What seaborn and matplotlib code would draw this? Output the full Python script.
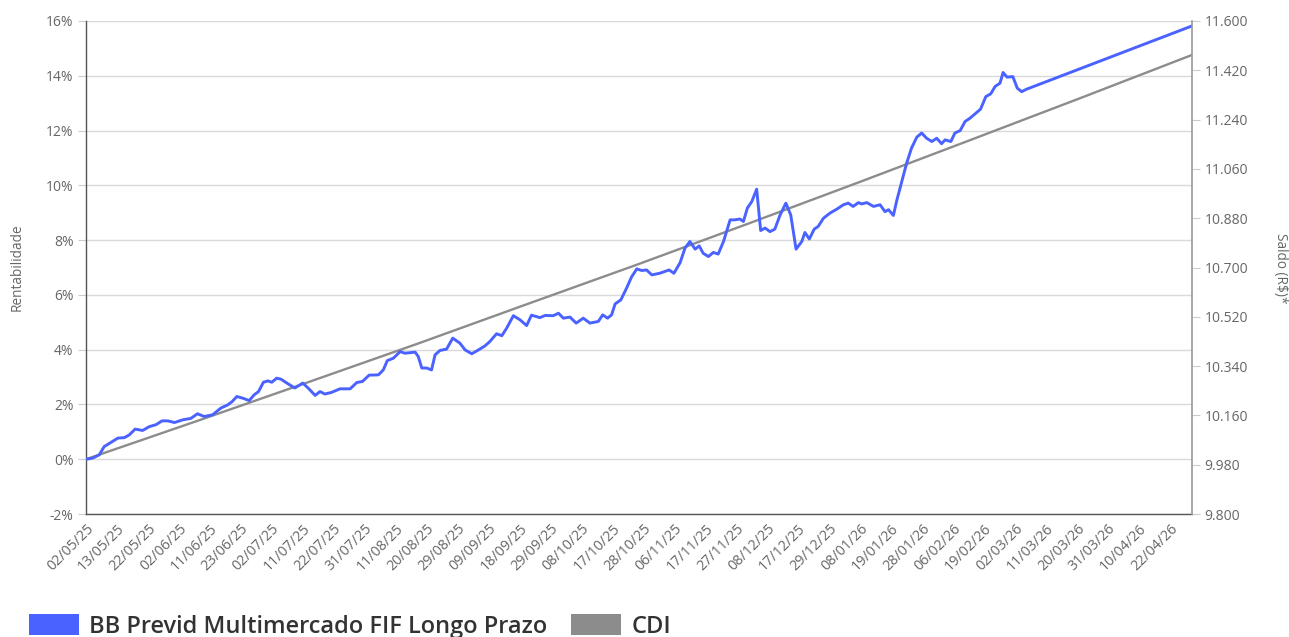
import numpy as np
import pandas as pd
import seaborn as sns
import matplotlib.pyplot as plt
from matplotlib.patches import Patch
from matplotlib.ticker import FixedLocator, FuncFormatter
from matplotlib.transforms import ScaledTranslation

# ---------------- data ----------------
tick_labels = ["02/05/25", "13/05/25", "22/05/25", "02/06/25", "11/06/25", "23/06/25",
               "02/07/25", "11/07/25", "22/07/25", "31/07/25", "11/08/25", "20/08/25",
               "29/08/25", "09/09/25", "18/09/25", "29/09/25", "08/10/25", "17/10/25",
               "28/10/25", "06/11/25", "17/11/25", "27/11/25", "08/12/25", "17/12/25",
               "29/12/25", "08/01/26", "19/01/26", "28/01/26", "06/02/26", "19/02/26",
               "02/03/26", "11/03/26", "20/03/26", "31/03/26", "10/04/26", "22/04/26"]
tick_step = 7          # business days between labels
last_day = 250         # business-day index of the last date on the axis

fund_day = [0, 1.5, 3.0, 4.1, 5.7, 7.2, 8.7, 9.8, 11.1, 12.8, 14.3, 15.8, 17.2, 18.5, 20.0,
            21.9, 23.7, 25.2, 26.7, 28.6, 30.5, 32.0, 33.0, 34.1, 35.4, 36.9, 38.0, 39.0,
            40.1, 41.1, 42.0, 43.1, 44.1, 45.4, 47.2, 49.0, 50.2, 51.8, 52.9, 54.0, 55.5,
            57.4, 59.7, 61.2, 62.5, 64.0, 66.1, 67.2, 68.1, 69.5, 71.0, 72.1, 74.4, 75.1,
            75.9, 77.0, 78.1, 78.9, 80.0, 81.5, 82.9, 84.5, 85.7, 87.2, 88.7, 90.2, 91.3,
            92.8, 94.0, 95.1, 96.6, 98.1, 99.6, 100.7, 102.6, 103.8, 105.6, 106.8, 107.9,
            109.4, 110.8, 112.4, 113.9, 115.8, 116.8, 117.9, 118.8, 119.6, 120.9, 122.2,
            123.3, 124.5, 125.6, 126.7, 127.9, 129.7, 131.8, 132.9, 134.3, 135.4, 136.5,
            137.7, 138.6, 139.5, 140.7, 141.8, 142.9, 144.1, 145.6, 146.7, 147.8, 148.6,
            149.5, 150.5, 151.6, 152.5, 153.5, 154.6, 155.7, 156.9, 158.2, 159.3, 160.5,
            161.8, 162.5, 163.5, 164.6, 165.5, 166.7, 168.2, 169.7, 171.2, 172.3, 173.4,
            174.6, 175.3, 176.5, 178.0, 179.5, 180.6, 181.4, 182.5, 183.3, 184.4, 185.5,
            186.6, 187.8, 188.9, 190.0, 191.2, 192.3, 193.4, 194.2, 195.5, 196.4, 197.6,
            198.7, 199.8, 201.2, 202.2, 203.4, 204.5, 205.5, 206.6, 207.3, 208.2, 209.5,
            210.5, 211.5, 212.6, 250.0]
fund_ret = [0.0, 0.04, 0.16, 0.46, 0.62, 0.77, 0.79, 0.89, 1.10, 1.05, 1.19, 1.26, 1.40, 1.40,
            1.34, 1.44, 1.49, 1.66, 1.56, 1.62, 1.87, 1.98, 2.10, 2.29, 2.23, 2.14, 2.35, 2.47,
            2.81, 2.86, 2.81, 2.96, 2.92, 2.78, 2.60, 2.78, 2.60, 2.33, 2.47, 2.38, 2.44, 2.57,
            2.57, 2.80, 2.84, 3.07, 3.08, 3.26, 3.60, 3.69, 3.93, 3.87, 3.91, 3.75, 3.33, 3.33,
            3.26, 3.81, 3.97, 4.02, 4.42, 4.24, 3.99, 3.85, 3.99, 4.14, 4.30, 4.58, 4.51, 4.79,
            5.24, 5.09, 4.88, 5.26, 5.17, 5.25, 5.24, 5.33, 5.15, 5.19, 4.97, 5.15, 4.97, 5.03,
            5.27, 5.15, 5.27, 5.67, 5.82, 6.25, 6.65, 6.95, 6.89, 6.91, 6.73, 6.79, 6.91, 6.79,
            7.18, 7.71, 7.95, 7.67, 7.79, 7.52, 7.40, 7.55, 7.49, 7.95, 8.74, 8.74, 8.77, 8.68,
            9.17, 9.41, 9.86, 8.35, 8.44, 8.31, 8.40, 8.92, 9.35, 8.92, 7.67, 7.95, 8.28, 8.04,
            8.40, 8.50, 8.80, 8.99, 9.13, 9.29, 9.35, 9.23, 9.37, 9.32, 9.37, 9.23, 9.29, 9.04,
            9.11, 8.90, 9.47, 10.14, 10.81, 11.36, 11.76, 11.91, 11.72, 11.60, 11.72, 11.52,
            11.66, 11.60, 11.91, 12.00, 12.33, 12.45, 12.64, 12.78, 13.24, 13.34, 13.61, 13.73,
            14.12, 13.95, 13.97, 13.55, 13.42, 13.51, 15.82]

cdi_day = [0, 25, 50, 75, 100, 125, 150, 175, 200, 225, 250]
cdi_ret = [0.0, 1.39, 2.80, 4.22, 5.68, 7.13, 8.62, 10.13, 11.66, 13.20, 14.76]

left_ticks = [-2, 0, 2, 4, 6, 8, 10, 12, 14, 16]
right_ticks = [9800, 9980, 10160, 10340, 10520, 10700, 10880, 11060, 11240, 11420, 11600]

series_names = ["BB Previd Multimercado FIF Longo Prazo", "CDI"]
colors = ["#4A62FF", "#8C8C8C"]

# ---------------- plot ----------------
sns.set_theme(style="white")
plt.rcParams["font.family"] = ["Open Sans", "DejaVu Sans"]

W, H = 1289, 637
fig = plt.figure(figsize=(W / 100, H / 100), dpi=100)
ax = fig.add_axes([86 / W, 1 - 514 / H, (1192 - 86) / W, (514 - 21) / H])

fund_df = pd.DataFrame({"day": fund_day, "ret": fund_ret})
cdi_df = pd.DataFrame({"day": cdi_day, "ret": cdi_ret})

sns.lineplot(data=cdi_df, x="day", y="ret", ax=ax, color=colors[1], lw=1.7,
             estimator=None, legend=False, zorder=3)
sns.lineplot(data=fund_df, x="day", y="ret", ax=ax, color=colors[0], lw=2.1,
             estimator=None, legend=False, zorder=4)

ax.set_xlim(0, last_day)
ax.set_ylim(-2, 16)
ax.yaxis.set_major_locator(FixedLocator(left_ticks))
ax.yaxis.set_major_formatter(FuncFormatter(lambda v, p: f"{v:.0f}%"))
ax.set_xticks(np.arange(len(tick_labels)) * tick_step)
ax.set_xticklabels(tick_labels, rotation=45, ha="right", va="top", rotation_mode="anchor")
for lbl in ax.get_xticklabels():
    lbl.set_transform(lbl.get_transform() + ScaledTranslation(10 / 100, 0, fig.dpi_scale_trans))

ax.set_xlabel("")
ax.set_ylabel("")
ax.grid(axis="y", color="#d9d9d9", lw=1)
ax.grid(axis="x", visible=False)
ax.set_axisbelow(True)

ax.tick_params(axis="y", length=6, width=0.8, color="#cccccc", labelcolor="#666666",
               labelsize=10, pad=3, left=True)
ax.tick_params(axis="x", length=0, labelcolor="#666666", labelsize=10.3, pad=5)

for s in ["top", "right"]:
    ax.spines[s].set_visible(False)
ax.spines["left"].set_color("#555555")
ax.spines["bottom"].set_color("#555555")
ax.spines["left"].set_linewidth(1.0)
ax.spines["bottom"].set_linewidth(1.0)

ax2 = ax.twinx()
ax2.set_ylim(right_ticks[0], right_ticks[-1])
ax2.yaxis.set_major_locator(FixedLocator(right_ticks))
ax2.yaxis.set_major_formatter(FuncFormatter(lambda v, p: f"{v:,.0f}".replace(",", ".")))
ax2.grid(False)
for s in ["top", "left", "bottom"]:
    ax2.spines[s].set_visible(False)
ax2.spines["right"].set_color("#999999")
ax2.spines["right"].set_linewidth(1.2)
ax2.tick_params(axis="y", length=6, width=0.8, color="#cccccc", labelcolor="#666666",
                labelsize=10, pad=3, right=True)

fig.text(17 / W, 1 - 267 / H, "Rentabilidade", rotation=90, ha="center", va="center",
         color="#666666", fontsize=9.8)
fig.text(1281 / W, 1 - 268 / H, "Saldo (R$)*", rotation=270, ha="center", va="center",
         color="#666666", fontsize=9.8)

handles = [Patch(facecolor=c, edgecolor="none") for c in colors]
fig.legend(handles, series_names, loc="upper left", bbox_to_anchor=(29 / W, 1 - 614 / H),
           ncol=2, frameon=False, prop={"size": 17, "weight": "semibold"},
           labelcolor="#333333", handlelength=2.1, handleheight=1.0, handletextpad=0.45,
           columnspacing=1.0, borderaxespad=0, borderpad=0)

fig.savefig("out.png", dpi=100)
